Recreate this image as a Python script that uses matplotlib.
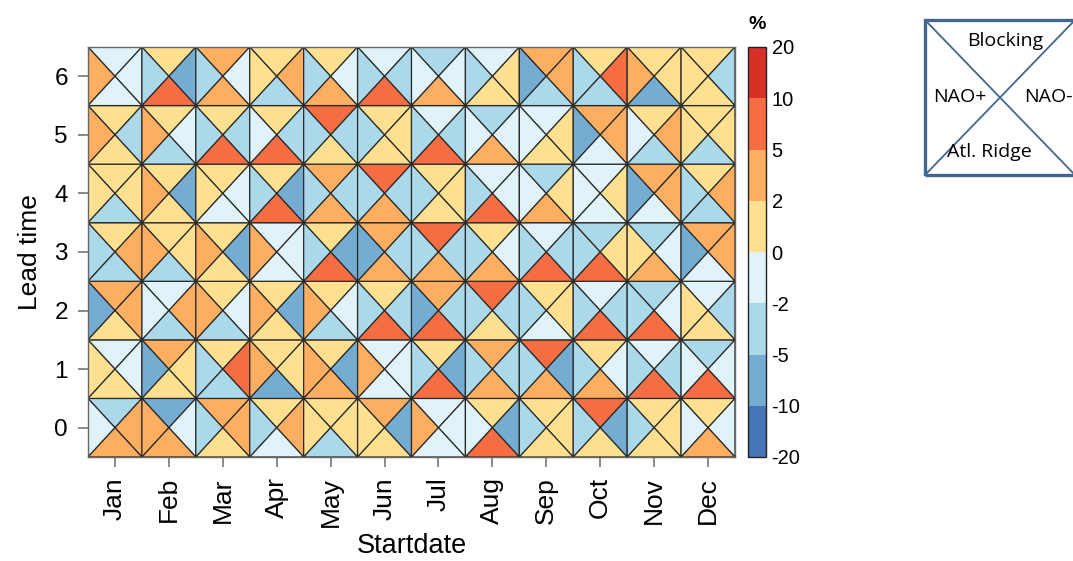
import matplotlib
matplotlib.use("Agg")
import matplotlib.pyplot as plt
import numpy as np
from matplotlib.collections import PolyCollection
from matplotlib.colors import ListedColormap, BoundaryNorm
from matplotlib.cm import ScalarMappable
from matplotlib.patches import Rectangle
from matplotlib.lines import Line2D

plt.rcParams["font.family"] = ["Liberation Sans", "DejaVu Sans"]
plt.rcParams["axes.unicode_minus"] = False

months = ["Jan", "Feb", "Mar", "Apr", "May", "Jun",
          "Jul", "Aug", "Sep", "Oct", "Nov", "Dec"]
lead_times = [0, 1, 2, 3, 4, 5, 6]
levels = [-20, -10, -5, -2, 0, 2, 5, 10, 20]
level_colors = ["#4575b4", "#74add1", "#abd9e9", "#e0f3f8",
                "#fee090", "#fdae61", "#f46d43", "#d73027"]

# Frequency anomalies (%) of each weather regime, one row per lead time (0..6),
# one column per start month (Jan..Dec).
blocking = [
    [-3.5, -7, 3.5, 1, 1, 3.5, -1, 1, 1, 7, 1, 1],
    [-1, 3.5, 1, 1, 1, -1, 1, 3.5, 7, 1, -1, -3.5],
    [3.5, -1, 1, 1, 1, 1, 3.5, 7, 1, -1, -3.5, -1],
    [1, 1, 1, -1, 1, 3.5, 7, 1, -1, -3.5, -3.5, 3.5],
    [1, 1, 1, 1, 3.5, 7, 1, -1, -3.5, -1, 3.5, 1],
    [1, 1, 1, 1, 7, 1, -1, -3.5, -1, 3.5, 1, 1],
    [-1, 1, 3.5, 1, 1, -1, -3.5, -1, 3.5, 1, 1, 1],
]
nao_pos = [
    [-1, 3.5, -3.5, -3.5, 1, 1, 3.5, -1, -3.5, -3.5, -3.5, -1],
    [1, -7, -3.5, 3.5, 3.5, 3.5, -3.5, -3.5, -3.5, -3.5, -3.5, -1],
    [-7, -1, 3.5, 3.5, 3.5, -3.5, -7, -3.5, -3.5, -3.5, -3.5, 1],
    [-3.5, 3.5, 3.5, 3.5, -3.5, -7, -3.5, -3.5, -3.5, -3.5, 1, -7],
    [1, 3.5, 1, -3.5, -3.5, -3.5, -3.5, -3.5, -1, -1, -7, -3.5],
    [3.5, 3.5, -3.5, -1, -3.5, -3.5, -3.5, -1, -1, -7, -1, 1],
    [3.5, -3.5, -3.5, 1, -3.5, -3.5, -1, -3.5, -7, -3.5, 3.5, 1],
]
nao_neg = [
    [3.5, -1, 3.5, 3.5, 1, -7, -1, -7, 1, -7, 1, -1],
    [-1, 1, 7, 1, -7, -1, -7, -3.5, -7, -1, -3.5, -1],
    [3.5, 3.5, -1, -7, -1, -3.5, -3.5, -3.5, 1, -3.5, -1, -3.5],
    [3.5, 1, -7, -1, -7, -3.5, -3.5, -1, -3.5, 1, -1, 3.5],
    [1, -7, -1, -7, -3.5, -3.5, 1, -1, 1, 1, 3.5, 3.5],
    [-3.5, -1, -3.5, -3.5, -3.5, 1, -3.5, -1, 1, 3.5, 3.5, 1],
    [-1, -7, -1, 3.5, -1, -3.5, -1, 1, 3.5, 7, 1, -3.5],
]
atl_ridge = [
    [3.5, 3.5, 1, -1, -3.5, 1, -1, 7, 1, 1, 1, 3.5],
    [1, 1, -3.5, -7, 3.5, -1, 7, 3.5, 3.5, 3.5, 7, 7],
    [1, -3.5, -3.5, 1, -3.5, 7, 7, 1, -1, 7, 7, 1],
    [-3.5, -3.5, 1, -1, 7, 3.5, 3.5, 3.5, 7, 7, 3.5, -1],
    [-3.5, 1, -1, 7, 3.5, 3.5, 1, 7, 3.5, -1, -1, -3.5],
    [1, -3.5, 7, 7, 1, 1, 7, 3.5, 1, -1, -3.5, -3.5],
    [-1, 7, 3.5, -3.5, 3.5, 7, 3.5, 1, -3.5, -3.5, -7, 1],
]

cmap = ListedColormap(level_colors)
norm = BoundaryNorm(levels, cmap.N)

W, H = 1073, 561
fig = plt.figure(figsize=(W / 100, H / 100), dpi=100)
ax = fig.add_axes([88 / W, 1 - 457 / H, 647 / W, 410 / H])

polys, vals = [], []
for j in lead_times:
    for i in range(len(months)):
        x0, x1, y0, y1 = i - 0.5, i + 0.5, j - 0.5, j + 0.5
        c = (i, j)
        polys += [
            [(x0, y1), (x1, y1), c],   # top: Blocking
            [(x0, y0), (x0, y1), c],   # left: NAO+
            [(x1, y0), (x1, y1), c],   # right: NAO-
            [(x0, y0), (x1, y0), c],   # bottom: Atl. Ridge
        ]
        vals += [blocking[j][i], nao_pos[j][i], nao_neg[j][i], atl_ridge[j][i]]

pc = PolyCollection(polys, array=np.array(vals), cmap=cmap, norm=norm,
                    edgecolors="#2a2a2a", linewidths=0.9)
ax.add_collection(pc)
ax.set_xlim(-0.5, len(months) - 0.5)
ax.set_ylim(-0.5, len(lead_times) - 0.5)

ax.set_xticks(range(len(months)))
ax.set_xticklabels(months, rotation=90, fontsize=19)
ax.set_yticks(lead_times)
ax.set_yticklabels([str(v) for v in lead_times], fontsize=17.5)
ax.tick_params(direction="out", length=7.5, width=1.2, color="#777777", pad=7)
for s in ax.spines.values():
    s.set_color("#666666")
    s.set_linewidth(1.0)
ax.set_xlabel("Startdate", fontsize=19.5, labelpad=4)
ax.set_ylabel("Lead time", fontsize=19, labelpad=9)

cax = fig.add_axes([748 / W, 1 - 457 / H, 18 / W, 410 / H])
sm = ScalarMappable(norm=norm, cmap=cmap)
cb = fig.colorbar(sm, cax=cax, boundaries=levels, ticks=levels, spacing="uniform")
cb.ax.tick_params(length=0, labelsize=14.5, pad=4)
cb.outline.set_edgecolor("#222222")
cb.outline.set_linewidth(1.0)
cax.set_title("%", fontsize=14, fontweight="bold", pad=13)

# Key for the four triangles of each cell
bx0, bx1 = 925 / W, 1075 / W
by0, by1 = 1 - 175 / H, 1 - 20 / H
key_color = "#41668f"
fig.add_artist(Rectangle((bx0, by0), bx1 - bx0, by1 - by0, transform=fig.transFigure,
                         fill=False, edgecolor=key_color, linewidth=2.4))
fig.add_artist(Line2D([bx0, bx1], [by1, by0], transform=fig.transFigure,
                      color=key_color, linewidth=1.3))
fig.add_artist(Line2D([bx0, bx1], [by0, by1], transform=fig.transFigure,
                      color=key_color, linewidth=1.3))
kfont = dict(fontsize=14, family=["Open Sans", "DejaVu Sans"], ha="center", va="center")
fig.text(1005 / W, 1 - 41 / H, "Blocking", **kfont)
fig.text(960 / W, 1 - 97 / H, "NAO+", **kfont)
fig.text(1048 / W, 1 - 97 / H, "NAO-", **kfont)
fig.text(989 / W, 1 - 152 / H, "Atl. Ridge", **kfont)

fig.savefig("out.png", dpi=100)
